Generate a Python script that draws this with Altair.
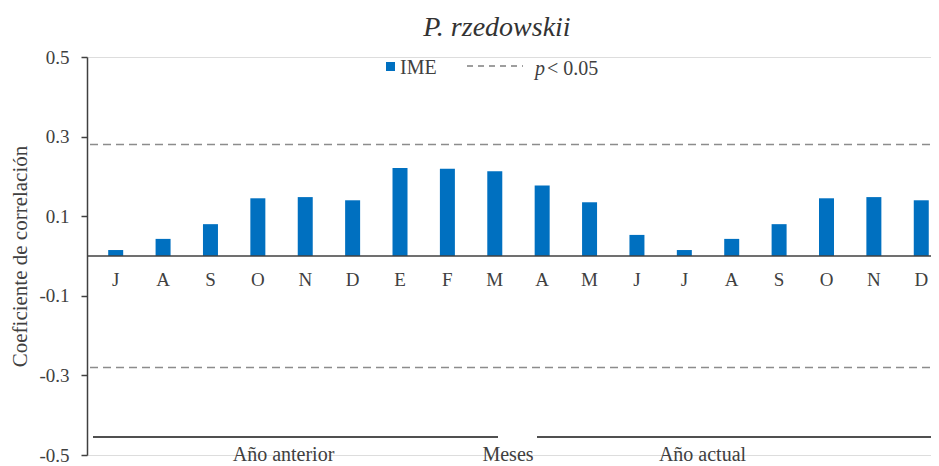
import altair as alt
import pandas as pd

# ---- data ----
months = ["J", "A", "S", "O", "N", "D", "E", "F", "M",
          "A", "M", "J", "J", "A", "S", "O", "N", "D"]
ime = [0.015, 0.043, 0.080, 0.145, 0.148, 0.140, 0.221, 0.219, 0.213,
       0.177, 0.135, 0.053, 0.015, 0.043, 0.080, 0.145, 0.148, 0.140]
sig_levels = [0.28, -0.28]
y_ticks = [-0.5, -0.3, -0.1, 0.1, 0.3, 0.5]
period_labels = ["Año anterior", "Meses", "Año actual"]
chart_title = "P. rzedowskii"
y_title = "Coeficiente de correlación"
legend_bar = "IME"
legend_p = "p"
legend_sig = "< 0.05"

FONT = "Liberation Serif"
TXT = "#404040"
BLUE = "#0070C0"
W, H = 844, 398

df = pd.DataFrame({"idx": list(range(len(months))), "month": months, "ime": ime})
sig_df = pd.DataFrame({"v": sig_levels})

x_enc = alt.X("idx:Q", scale=alt.Scale(domain=[-0.5, 17.1], nice=False, zero=False),
              axis=None)
y_scale = alt.Scale(domain=[-0.5, 0.5], nice=False, zero=False)

label_expr = ("datum.value < 0 ? '-' + format(abs(datum.value), '.1f') : "
              "format(datum.value, '.1f')")

bars = alt.Chart(df).mark_bar(size=15, color=BLUE).encode(
    x=x_enc,
    y=alt.Y("ime:Q", scale=y_scale,
            axis=alt.Axis(values=y_ticks, labelExpr=label_expr, grid=False,
                          domainColor=TXT, domainWidth=1.5, tickColor=TXT,
                          tickWidth=1.5, tickSize=6, labelFont=FONT,
                          labelFontSize=19, labelColor=TXT, labelPadding=12,
                          title=y_title, titleFont=FONT, titleFontSize=21,
                          titleFontWeight="normal", titleColor=TXT,
                          titleX=-67, titleY=199, titleAngle=270,
                          titleAlign="center", titleBaseline="middle")),
    y2=alt.datum(0),
)

month_text = alt.Chart(df).mark_text(font=FONT, fontSize=19, color=TXT,
                                     baseline="alphabetic", dy=30).encode(
    x=x_enc, y=alt.Y("zero:Q", scale=y_scale), text="month:N"
).transform_calculate(zero="0")

zero_line = alt.Chart(df).mark_rule(color=TXT, strokeWidth=1.5).encode(
    y=alt.Y("zero:Q", scale=y_scale), x=alt.value(0), x2=alt.value(W)
).transform_calculate(zero="0").transform_filter("datum.idx == 0")

sig_rules = alt.Chart(sig_df).mark_rule(color="#8c8c8c", strokeWidth=1.5,
                                        strokeDash=[8, 5]).encode(
    y=alt.Y("v:Q", scale=y_scale), x=alt.value(3), x2=alt.value(W)
)


def one(text):
    return alt.Chart(pd.DataFrame({"t": [text]}))


def label(text, x, y, **kw):
    return one(text).mark_text(font=FONT, baseline="alphabetic", **kw).encode(
        x=alt.value(x), y=alt.value(y), text="t:N")


# bottom period brackets
bracket_l = one("l").mark_rule(color="#505050", strokeWidth=2).encode(
    x=alt.value(6), x2=alt.value(411), y=alt.value(380))
bracket_r = one("r").mark_rule(color="#505050", strokeWidth=2).encode(
    x=alt.value(450), x2=alt.value(W), y=alt.value(380))

lbl_prev = label(period_labels[0], 196.5, 404, fontSize=20, color=TXT, align="center")
lbl_mes = label(period_labels[1], 421, 404, fontSize=20, color=TXT, align="center")
lbl_act = label(period_labels[2], 615.5, 404, fontSize=20, color=TXT, align="center")

# legend
leg_sq = one("sq").mark_square(size=81, color=BLUE, opacity=1).encode(
    x=alt.value(303.5), y=alt.value(9.5))
leg_ime = label(legend_bar, 313, 16.5, fontSize=20, color=TXT, align="left")
leg_dash = one("d").mark_rule(color="#7f7f7f", strokeWidth=1.5,
                              strokeDash=[6, 5]).encode(
    x=alt.value(380), x2=alt.value(436), y=alt.value(9))
leg_p = label(legend_p, 448, 17.5, fontSize=20, color=TXT, align="left",
              fontStyle="italic")
leg_sig = label(legend_sig, 460, 17.5, fontSize=20, color=TXT, align="left")

chart = alt.layer(
    sig_rules, bars, zero_line, month_text,
    bracket_l, bracket_r, lbl_prev, lbl_mes, lbl_act,
    leg_sq, leg_ime, leg_dash, leg_p, leg_sig,
).properties(
    width=W, height=H,
    title=alt.TitleParams(chart_title, font=FONT, fontSize=28, fontStyle="italic",
                          fontWeight="normal", color="#333333", anchor="middle",
                          dx=-12, offset=6),
    autosize="none",
    padding={"left": 79, "top": 49, "right": 0, "bottom": 11},
).configure_view(stroke=None).configure(background="white")

chart.save("out.html", embed_options={"renderer": "svg", "actions": False})
